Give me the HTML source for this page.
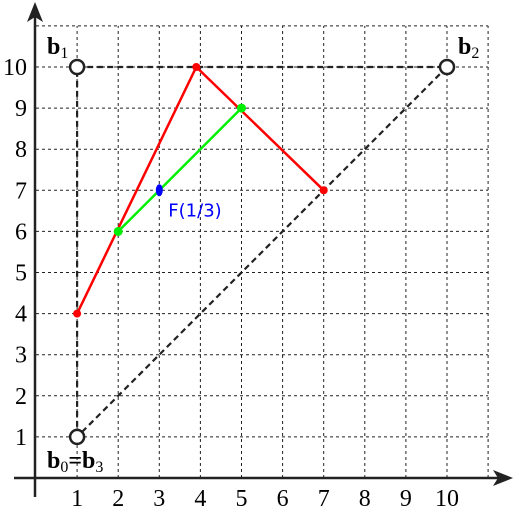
<!DOCTYPE html>
<html><head><meta charset="utf-8"><style>
html,body{margin:0;padding:0;background:#fff;}
svg{display:block;}
.serif{font-family:"Liberation Serif","Times New Roman",serif;}
</style></head><body>
<svg id="chart" width="519" height="515" viewBox="0 0 519 515" xmlns="http://www.w3.org/2000/svg">
<g id="grid"></g>
<g id="axes">
<line x1="35" y1="497" x2="35" y2="14" stroke="#222" stroke-width="2.5"/>
<polygon points="35,2 27,22 35,17 43,22" fill="#222"/>
<line x1="14" y1="478" x2="500" y2="478" stroke="#222" stroke-width="2.5"/>
<polygon points="513,478 493,470 498,478 493,486" fill="#222"/>
</g>
<g id="ticks"></g>
<g id="series"></g>
</svg>
<script>
const xTicks=[1,2,3,4,5,6,7,8,9,10];
const yTicks=[1,2,3,4,5,6,7,8,9,10];
const controlX=[1,1,10,1];
const controlY=[1,10,10,1];
const redX=[1,3.9,7];
const redY=[4,10,7];
const greenX=[2,5];
const greenY=[6,9];
const pointF=[3,7];
const sx=v=>36+v*41.1, sy=v=>478-v*41.1;
const NS="http://www.w3.org/2000/svg";
const SERIF='"Liberation Serif","Times New Roman",serif';
function mk(t,a,p){const e=document.createElementNS(NS,t);for(const k in a)e.setAttribute(k,a[k]);p.appendChild(e);return e;}
const grid=document.getElementById('grid'),ticks=document.getElementById('ticks'),ser=document.getElementById('series');
for(let i=1;i<=11;i++){
 const l=mk('line',{x1:sx(i),y1:sy(0),x2:sx(i),y2:sy(11),stroke:'#222','stroke-width':1,'stroke-dasharray':'3,3'},grid);
 
 
 const m=mk('line',{x1:sx(0),y1:sy(i),x2:sx(11),y2:sy(i),stroke:'#222','stroke-width':1,'stroke-dasharray':'3,3'},grid);
 
 
}
xTicks.forEach(v=>{const t=mk('text',{x:sx(v),y:506,'font-size':24,'text-anchor':'middle','font-family':SERIF},ticks);t.textContent=v;
 
 });
yTicks.forEach(v=>{const t=mk('text',{x:27,y:sy(v)+8,'font-size':24,'text-anchor':'end','font-family':SERIF},ticks);t.textContent=v;
 
 });
let pts=controlX.map((x,i)=>sx(x)+','+sy(controlY[i])).join(' ');
const cp=mk('polyline',{points:pts,fill:'none',stroke:'#222','stroke-width':2.2,'stroke-dasharray':'6,4'},ser);


const rl=mk('polyline',{points:redX.map((x,i)=>sx(x)+','+sy(redY[i])).join(' '),fill:'none',stroke:'#f00','stroke-width':2.5},ser);


redX.forEach((x,i)=>{const c=mk('circle',{cx:sx(x),cy:sy(redY[i]),r:4,fill:'#f00'},ser);
 
 });
const gl=mk('polyline',{points:greenX.map((x,i)=>sx(x)+','+sy(greenY[i])).join(' '),fill:'none',stroke:'#0e0','stroke-width':2.5},ser);


greenX.forEach((x,i)=>{const c=mk('circle',{cx:sx(x),cy:sy(greenY[i]),r:4.5,fill:'#0e0'},ser);
 
 });
const f=mk('ellipse',{cx:sx(pointF[0]),cy:sy(pointF[1]),rx:3.5,ry:6,fill:'#00f'},ser);


const ft=mk('text',{x:sx(pointF[0])+9,y:sy(pointF[1])+26,'font-size':18,fill:'#00f','font-family':'"DejaVu Sans",sans-serif'},ser);
ft.textContent='F(1/3)';


[[1,1],[1,10],[10,10]].forEach(p=>{const c=mk('circle',{cx:sx(p[0]),cy:sy(p[1]),r:7,fill:'#fff',stroke:'#222','stroke-width':2.5},ser);
 
 });
function lab(x,y,parts){const t=mk('text',{x:x,y:y,'font-size':24,'font-weight':'bold','font-family':SERIF},ser);
 t.innerHTML=parts;
 
 }
lab(47,54,'b<tspan font-weight="normal" font-size="16" dy="4">1</tspan>');
lab(458,54,'b<tspan font-weight="normal" font-size="16" dy="4">2</tspan>');
lab(47,468,'b<tspan font-weight="normal" font-size="16" dy="4">0</tspan><tspan dy="-4">=b</tspan><tspan font-weight="normal" font-size="16" dy="4">3</tspan>');
</script>
</body></html>
